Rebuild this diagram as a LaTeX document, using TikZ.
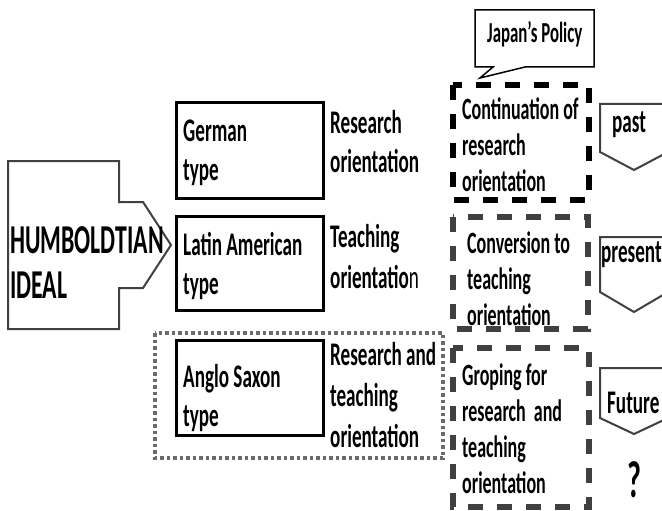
\documentclass[tikz,border=0pt]{standalone}
\usepackage{fontspec}
\setmainfont[FakeStretch=0.58]{Carlito}
\definecolor{edgegray}{HTML}{404040}
\definecolor{dotgray}{HTML}{6A6A6A}

\begin{document}
\begin{tikzpicture}[x=1pt,y=-1pt,
	typebox/.style={draw=black, line width=3pt},
	policybox/.style={line width=5.5pt, dash pattern=on 15pt off 14pt},
	eraarrow/.style={draw=edgegray, line width=2pt},
	lefttext/.style={anchor=base west, inner sep=0pt, align=left, font=\bfseries\fontsize{33}{39}\selectfont},
	righttext/.style={anchor=base west, inner sep=0pt, align=left, font=\bfseries\fontsize{31}{36}\selectfont}]
				\useasboundingbox (0,0) rectangle (662,511);
				\clip (0,0) rectangle (662,511);
				
				% multi-line nodes sit on the baseline of their last line
				\draw[edgegray, line width=2pt] (8,161) -- (119,161) -- (119,202) -- (143,202) -- (171,245) -- (143,288) -- (119,288) -- (119,329) -- (8,329) -- cycle;
				\node[lefttext, font=\bfseries\fontsize{41}{45}\selectfont] (ideal) at (10,298) {HUMBOLDTIAN\\IDEAL};
				
				\draw[typebox] (176,103) rectangle (323,198);
				\node[lefttext] (german) at (183,180) {German\\type};
				\node[lefttext] (research) at (330,172) {Research\\orientation};
				
				\draw[typebox] (176,216) rectangle (323,310);
				\node[lefttext] (latin) at (183,294) {Latin American\\type};
				\node[lefttext, font=\bfseries\fontsize{33}{41}\selectfont] (teaching) at (330,288) {Teaching\\orientatio{\mdseries n}};
				
				\draw[dotgray, line width=3.5pt, dash pattern=on 3.5pt off 3pt] (155,333) rectangle (443,458);
				\draw[typebox] (176,340) rectangle (323,435);
				\node[lefttext] (anglo) at (183,426) {Anglo Saxon\\type};
				\node[lefttext, font=\bfseries\fontsize{33}{41}\selectfont] (both) at (330,447) {Research and\\teaching\\orientation};
				
				\draw[black, line width=1.5pt, fill=white] (475,10) -- (594,10) -- (594,67) -- (525,67) -- (480,78) -- (493,67) -- (475,67) -- cycle;
				\node[anchor=base west, inner sep=0pt, font=\bfseries\fontsize{29}{30}\selectfont] (policy) at (487,43) {Japan’s Policy};
				
				\draw[policybox, black] (453,85) rectangle (589,200);
				\node[righttext] (continue) at (462,191) {Continuation of\\research\\orientation};
				
				\draw[policybox, edgegray] (453,217) rectangle (588,329);
				\node[righttext] (convert) at (467,325) {Conversion to\\teaching\\orientation};
				
				\draw[policybox, edgegray] (453,348) rectangle (589,507);
				\node[righttext] (grope) at (462,493) {Groping for\\research\ \ and\\teaching\\orientation};
				
				\draw[eraarrow] (600,104) -- (668,104) -- (668,152) -- (634,170) -- (600,152) -- cycle;
				\node[lefttext] (past) at (612,132) {past};
				
				\draw[eraarrow] (600,237) -- (668,237) -- (668,292) -- (634,312) -- (600,292) -- cycle;
				\node[lefttext] (present) at (601,262) {present};
				
				\draw[eraarrow] (600,368) -- (668,368) -- (668,418) -- (634,434) -- (600,418) -- cycle;
				\node[lefttext] (future) at (607,413) {Future};
				
				\node[anchor=base, inner sep=0pt, font=\bfseries\fontsize{52}{56}\selectfont] (unknown) at (634,497) {?};
			\end{tikzpicture}
\end{document}
